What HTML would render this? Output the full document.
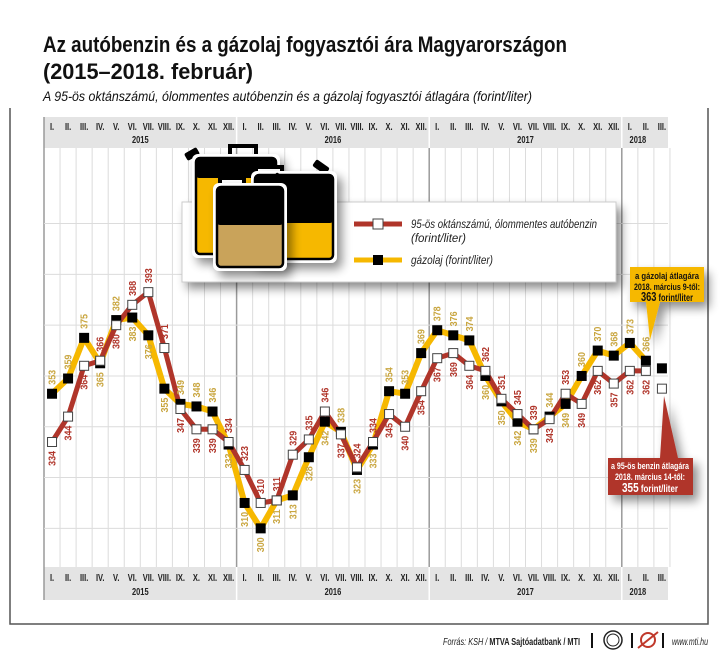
<!DOCTYPE html>
<html><head><meta charset="utf-8"><style>
html,body{margin:0;padding:0;background:#fff;}
body{width:720px;height:660px;overflow:hidden;position:relative;font-family:"Liberation Sans",sans-serif;}
svg text{font-family:"Liberation Sans",sans-serif;}
</style></head><body>
<svg id="s" width="720" height="660" viewBox="0 0 720 660" xmlns="http://www.w3.org/2000/svg">
<defs>
<filter id="sh" x="-20%" y="-20%" width="150%" height="160%"><feGaussianBlur in="SourceAlpha" stdDeviation="5"/><feOffset dx="5" dy="6"/><feComponentTransfer><feFuncA type="linear" slope="0.45"/></feComponentTransfer><feMerge><feMergeNode/><feMergeNode in="SourceGraphic"/></feMerge></filter>
</defs>
<text x="43" y="52" font-size="22" font-weight="bold" fill="#111" textLength="524" lengthAdjust="spacingAndGlyphs">Az autóbenzin és a gázolaj fogyasztói ára Magyarországon</text>
<text x="43" y="79" font-size="22" font-weight="bold" fill="#111" textLength="210" lengthAdjust="spacingAndGlyphs">(2015–2018. február)</text>
<text x="43" y="101" font-size="13.5" font-style="italic" fill="#111" textLength="489" lengthAdjust="spacingAndGlyphs">A 95-ös oktánszámú, ólommentes autóbenzin és a gázolaj fogyasztói átlagára (forint/liter)</text>
<path d="M10 108 V624 H708 V108" fill="none" stroke="#555" stroke-width="1.5"/>
<g id="g"></g>
</svg>
<script>
var s=document.getElementById('g'),h='';
var x0=44,w=16.05;
function X(i){return x0+w*(i+0.5);}
function Y(v){return 442-(v-334)*2.54;}
function ct(x,y,t,fs,extra){return '<g transform="translate('+x+','+y+') scale(0.75,1)"><text x="0" y="0" font-size="'+fs+'" text-anchor="middle" '+(extra||'')+'>'+t+'</text></g>';}
h+='<rect x="44" y="117" width="624" height="31" fill="#e4e4e4"/>';
h+='<rect x="44" y="567" width="624" height="33" fill="#e4e4e4"/>';
for(var i=0;i<=39;i++){var xx=x0+w*i;var yb=(i%12==0&&i>0&&i<39);
 h+='<line x1="'+xx+'" y1="'+(i==0?117:148)+'" x2="'+xx+'" y2="'+(i==0?600:567)+'" stroke="'+(yb?'#9a9a9a':'#dcdcdc')+'" stroke-width="'+(yb?1.5:1)+'"/>';
 if(yb){h+='<line x1="'+xx+'" y1="117" x2="'+xx+'" y2="148" stroke="#fff" stroke-width="1.5"/><line x1="'+xx+'" y1="567" x2="'+xx+'" y2="600" stroke="#fff" stroke-width="1.5"/>';}
}
h+='<line x1="44" y1="117" x2="44" y2="600" stroke="#9a9a9a" stroke-width="1.5"/>';
for(var v=300;v<=420;v+=20){var yy=Y(v);if(yy>150&&yy<565)h+='<line x1="44" y1="'+yy+'" x2="668" y2="'+yy+'" stroke="#dcdcdc"/>';}
var R=['I.','II.','III.','IV.','V.','VI.','VII.','VIII.','IX.','X.','XI.','XII.'];
for(var i=0;i<39;i++){var m=R[i%12];
 h+=ct(X(i),130,m,10,'font-weight="bold" fill="#222"');
 h+=ct(X(i),581,m,10,'font-weight="bold" fill="#222"');}
var yrs=[['2015',6],['2016',18],['2017',30],['2018',37]];
yrs.forEach(function(a){var xx=x0+w*a[1];
 h+=ct(xx,143,a[0],10,'font-weight="bold" fill="#222"');
 h+=ct(xx,595,a[0],10,'font-weight="bold" fill="#222"');});
var P=[334,344,364,366,380,388,393,371,347,339,339,334,323,310,311,329,335,346,337,324,334,345,340,354,367,369,364,362,351,345,339,343,353,349,362,357,362,362];
var D=[353,359,375,365,382,383,376,355,349,348,346,333,310,300,311,313,328,342,338,323,333,354,353,369,378,376,374,360,350,342,339,344,349,360,370,368,373,366];
function pl(a){return a.map(function(v,i){return X(i).toFixed(1)+','+Y(v).toFixed(1)}).join(' ');}
h+='<polyline points="'+pl(D)+'" fill="none" stroke="#f6b800" stroke-width="6" stroke-linejoin="round"/>';
h+='<polyline points="'+pl(P)+'" fill="none" stroke="#b0352a" stroke-width="5" stroke-linejoin="round"/>';
function lab(x,y,t,c,up){var yy=up?y-9:y+9;
 return '<text transform="translate('+(x+3.5)+','+yy+') rotate(-90) scale(0.85,1)" font-size="10.5" font-weight="bold" text-anchor="'+(up?'start':'end')+'" fill="'+c+'">'+t+'</text>';}
for(var i=0;i<38;i++){var pu=P[i]>=D[i];
 if(i==0)pu=false;
 h+=lab(X(i),Y(P[i]),P[i],'#b0352a',pu);
 h+=lab(X(i),Y(D[i]),D[i],'#c9a640',!pu);}
for(var i=0;i<38;i++){
 h+='<rect x="'+(X(i)-5)+'" y="'+(Y(D[i])-5)+'" width="10" height="10" fill="#000"/>';
 h+='<rect x="'+(X(i)-4.5)+'" y="'+(Y(P[i])-4.5)+'" width="9" height="9" fill="#fff" stroke="#444" stroke-width="1"/>';}
h+='<rect x="'+(X(38)-5)+'" y="'+(Y(363)-5)+'" width="10" height="10" fill="#000"/>';
h+='<rect x="'+(X(38)-4.5)+'" y="'+(Y(355)-4.5)+'" width="9" height="9" fill="#fff" stroke="#444"/>';
h+='<g filter="url(#sh)"><path d="M630 267 H704 V302 H660 L650 340 L646 302 H630 Z" fill="#f6b800"/></g>';
h+='<text x="667" y="279" font-size="9.5" font-weight="bold" text-anchor="middle" fill="#111" textLength="64" lengthAdjust="spacingAndGlyphs">a gázolaj átlagára</text>';
h+='<text x="667" y="290" font-size="9.5" font-weight="bold" text-anchor="middle" fill="#111" textLength="66" lengthAdjust="spacingAndGlyphs">2018. március 9-től:</text>';
h+='<text x="667" y="301" font-size="10" font-weight="bold" text-anchor="middle" fill="#111" textLength="52" lengthAdjust="spacingAndGlyphs"><tspan font-size="12.5">363</tspan> forint/liter</text>';
h+='<g filter="url(#sh)"><path d="M608 458 H660 L664 396 L678 458 H693 V495 H608 Z" fill="#b0352a"/></g>';
h+='<text x="650" y="469" font-size="9.5" font-weight="bold" text-anchor="middle" fill="#fff" textLength="78" lengthAdjust="spacingAndGlyphs">a 95-ös benzin átlagára</text>';
h+='<text x="650" y="480" font-size="9.5" font-weight="bold" text-anchor="middle" fill="#fff" textLength="70" lengthAdjust="spacingAndGlyphs">2018. március 14-től:</text>';
h+='<text x="650" y="492" font-size="10" font-weight="bold" text-anchor="middle" fill="#fff" textLength="56" lengthAdjust="spacingAndGlyphs"><tspan font-size="12.5">355</tspan> forint/liter</text>';
h+='<rect x="182" y="202" width="434" height="80" fill="#fff" stroke="#ccc" filter="url(#sh)"/>';
h+='<line x1="354" y1="224" x2="402" y2="224" stroke="#b0352a" stroke-width="5"/><rect x="373" y="219" width="10" height="10" fill="#fff" stroke="#444"/>';
h+='<text x="411" y="228" font-size="12" font-style="italic" fill="#222" textLength="186" lengthAdjust="spacingAndGlyphs">95-ös oktánszámú, ólommentes autóbenzin</text>';
h+='<text x="411" y="242" font-size="12" font-style="italic" fill="#222" textLength="55" lengthAdjust="spacingAndGlyphs">(forint/liter)</text>';
h+='<line x1="354" y1="260" x2="402" y2="260" stroke="#f6b800" stroke-width="5"/><rect x="373" y="255" width="10" height="10" fill="#000"/>';
h+='<text x="411" y="264" font-size="12" font-style="italic" fill="#222" textLength="82" lengthAdjust="spacingAndGlyphs">gázolaj (forint/liter)</text>';
function can(x,y,wd,ht,fillTop,fillBot,split){
 var o='<g filter="url(#sh)">';
 o+='<rect x="'+(x-4)+'" y="'+(y-4)+'" width="'+(wd+8)+'" height="'+(ht+8)+'" rx="6" fill="#fff"/>';
 o+='<rect x="'+x+'" y="'+y+'" width="'+wd+'" height="'+ht+'" rx="4" fill="'+fillBot+'" stroke="#000" stroke-width="2.5"/>';
 o+='<rect x="'+x+'" y="'+y+'" width="'+wd+'" height="'+split+'" rx="3" fill="'+fillTop+'"/>';
 o+='</g>';return o;}
h+='<rect x="185" y="150" width="14" height="8" rx="2" fill="#000" transform="rotate(-30 192 154)"/>';
h+='<rect x="230" y="146" width="26" height="16" fill="none" stroke="#000" stroke-width="4"/>';
h+=can(196,158,80,96,'#000','#f6b800',20);
h+='<rect x="256" y="167" width="26" height="16" fill="#fff" stroke="#000" stroke-width="4"/>';
h+='<rect x="313" y="163" width="16" height="8" rx="2" fill="#000" transform="rotate(35 321 167)"/>';
h+=can(255,175,78,84,'#000','#f6b800',48);
h+='<rect x="220" y="178" width="24" height="14" fill="#fff" stroke="#000" stroke-width="4"/>';
h+='<rect x="273" y="176" width="16" height="8" rx="2" fill="#000" transform="rotate(35 281 180)"/>';
h+=can(217,187,66,80,'#000','#c9a35a',38);
h+='<text x="443" y="645" font-size="10.5" fill="#222" textLength="137" lengthAdjust="spacingAndGlyphs"><tspan font-style="italic">Forrás: KSH / </tspan><tspan font-weight="bold">MTVA Sajtóadatbank / MTI</tspan></text>';
h+='<line x1="592" y1="633" x2="592" y2="648" stroke="#111" stroke-width="2"/>';
h+='<circle cx="613" cy="640" r="9" fill="none" stroke="#222" stroke-width="1.5"/><circle cx="613" cy="640" r="6" fill="none" stroke="#222" stroke-width="1"/>';
h+='<line x1="632" y1="633" x2="632" y2="648" stroke="#111" stroke-width="2"/>';
h+='<circle cx="648" cy="640" r="7" fill="none" stroke="#c0392b" stroke-width="2"/><line x1="638" y1="648" x2="658" y2="632" stroke="#c0392b" stroke-width="2"/>';
h+='<line x1="663" y1="633" x2="663" y2="648" stroke="#111" stroke-width="2"/>';
h+='<text x="672" y="645" font-size="10.5" font-style="italic" fill="#222" textLength="36" lengthAdjust="spacingAndGlyphs">www.mti.hu</text>';
s.innerHTML=h;
</script>
</body></html>
